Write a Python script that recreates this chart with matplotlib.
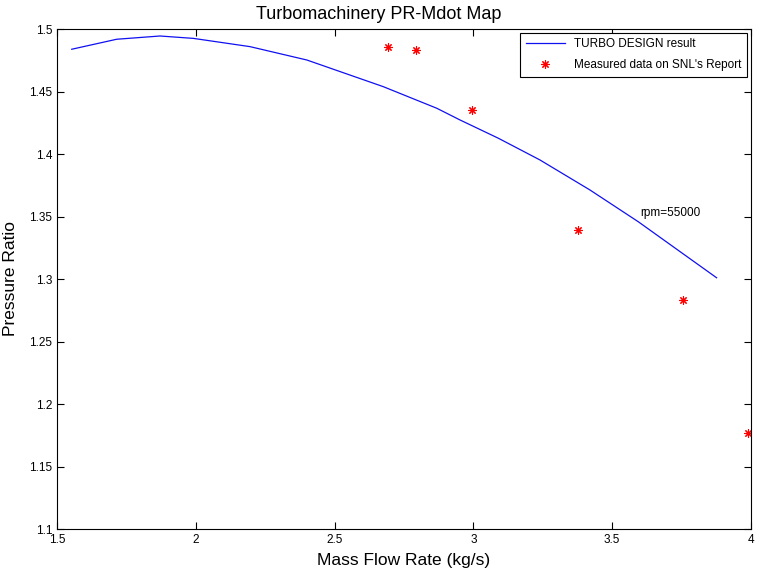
import numpy as np
import matplotlib
matplotlib.use('Agg')
import matplotlib.pyplot as plt

plt.rcParams['font.family'] = ['Liberation Sans', 'DejaVu Sans']

# TURBO DESIGN curve
mdot_design = [1.553, 1.715, 1.871, 1.991, 2.195, 2.400, 2.675, 2.868,
               2.952, 3.090, 3.240, 3.420, 3.594, 3.876]
pr_design = [1.4838, 1.4918, 1.4944, 1.4925, 1.4859, 1.4752, 1.4539, 1.4366,
             1.4272, 1.4126, 1.3952, 1.3712, 1.3458, 1.3010]

# measured data on SNL's report
mdot_meas = [2.691, 2.792, 2.994, 3.376, 3.755, 3.988]
pr_meas = [1.486, 1.483, 1.435, 1.339, 1.283, 1.177]

xticks = [1.5, 2, 2.5, 3, 3.5, 4]
yticks = [1.1, 1.15, 1.2, 1.25, 1.3, 1.35, 1.4, 1.45, 1.5]

fig = plt.figure(figsize=(7.57, 5.75), dpi=100)
ax = fig.add_axes([57/757, 46/575, 694/757, 500/575])

ax.plot(mdot_design, pr_design, color='#1010f0', lw=0.9, label='TURBO DESIGN result')
# MATLAB style asterisk marker
ax.plot(mdot_meas, pr_meas, linestyle='none', marker=(8, 2, 0), color='red',
        markersize=6, markeredgewidth=0.8, label="Measured data on SNL's Report")

ax.text(3.6, 1.353, 'rpm=55000', fontsize=8.5, ha='left', va='center')

ax.set_xlim(1.5, 4)
ax.set_ylim(1.1, 1.5)
ax.set_xticks(xticks)
ax.set_yticks(yticks)
ax.set_xticklabels(['1.5', '2', '2.5', '3', '3.5', '4'])
ax.set_yticklabels(['1.1', '1.15', '1.2', '1.25', '1.3', '1.35', '1.4', '1.45', '1.5'])
ax.tick_params(direction='in', top=True, right=True, labelsize=8.5, length=5, width=0.8)
for s in ax.spines.values():
    s.set_linewidth(0.8)

ax.set_title('Turbomachinery PR-Mdot Map', fontsize=13, pad=7, x=0.463)
ax.set_xlabel('Mass Flow Rate (kg/s)', fontsize=12.5, labelpad=5)
ax.set_ylabel('Pressure Ratio', fontsize=12.5, labelpad=8)

leg = ax.legend(loc='upper right', fontsize=8.5, fancybox=False, framealpha=1,
                edgecolor='black', handlelength=3.3, borderaxespad=0.3,
                labelspacing=0.7, borderpad=0.5)
leg.get_frame().set_linewidth(0.8)

fig.savefig('out.png', dpi=100)
